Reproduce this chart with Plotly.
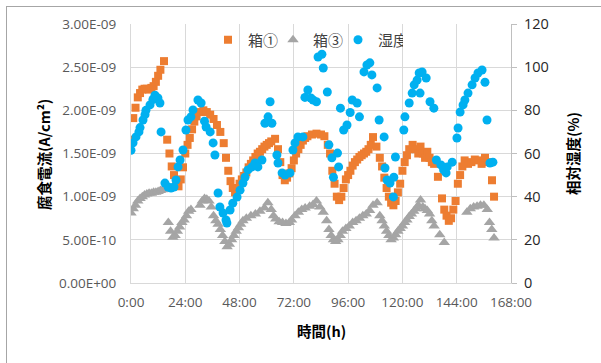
import plotly.graph_objects as go

# ---- data ----
box1_t = [0, 1, 2, 3, 4, 5, 6, 7, 8, 9, 10, 11, 12, 13, 14.6, 16, 17, 18, 19, 20, 21, 22, 23, 24, 25, 26, 27, 28, 29,
          30.5, 32, 33.5, 35, 36.5, 38, 39.5, 41, 42, 43, 44, 45, 46, 47, 48, 49, 50, 51, 52, 53, 54, 55, 56, 57, 58,
          59, 60, 61, 62, 63.7, 65, 66, 67, 68, 69, 70, 71, 72, 73, 74, 75, 76, 77, 78, 80, 82, 84, 85.5, 87, 88, 89,
          90, 91, 92, 93, 94, 95, 96, 97, 98, 99, 100, 101, 102, 103, 104, 105, 106, 107, 108.5, 110, 111, 112, 113,
          114, 115, 116, 117, 118, 119, 120, 121, 122, 123, 124.5, 126, 127, 128, 129, 130, 131, 132, 133, 134, 135.7,
          137.5, 138.5, 139.5, 140.5, 141.5, 142.5, 143.5, 144.5, 145.5, 146.5, 147.5, 149, 150.5, 152, 153.5, 155,
          156.5, 158, 159.6, 160.5]
box1_i = [1.66, 1.91, 2.03, 2.15, 2.2, 2.24, 2.25, 2.25, 2.24, 2.26, 2.28, 2.33, 2.4, 2.47, 2.57, 1.66, 1.5, 1.35,
          1.25, 1.15, 1.12, 1.2, 1.34, 1.5, 1.6, 1.68, 1.78, 1.87, 1.93, 1.98, 2.0, 1.98, 1.95, 1.9, 1.83, 1.75, 1.62,
          1.45, 1.3, 1.18, 1.1, 1.05, 1.1, 1.15, 1.2, 1.24, 1.28, 1.34, 1.38, 1.42, 1.46, 1.5, 1.52, 1.55, 1.58, 1.6,
          1.62, 1.64, 1.67, 1.55, 1.4, 1.25, 1.19, 1.22, 1.27, 1.33, 1.42, 1.5, 1.55, 1.6, 1.65, 1.68, 1.7, 1.72, 1.73,
          1.72, 1.7, 1.6, 1.5, 1.3, 1.15, 1.0, 0.96, 1.0, 1.1, 1.2, 1.25, 1.3, 1.36, 1.4, 1.43, 1.46, 1.48, 1.5, 1.52,
          1.55, 1.6, 1.69, 1.58, 1.45, 1.35, 1.22, 1.1, 1.0, 0.93, 0.9, 0.95, 1.05, 1.15, 1.3, 1.4, 1.48, 1.55, 1.6,
          1.55, 1.5, 1.58, 1.5, 1.45, 1.52, 1.45, 1.4, 1.38, 1.23, 0.98, 0.85, 0.78, 0.72, 0.75, 0.85, 0.95, 1.15,
          1.25, 1.35, 1.42, 1.38, 1.4, 1.43, 1.42, 1.38, 1.45, 1.4, 1.19, 1.0]

box3_t = [0, 1, 2, 3, 4, 5, 6, 7, 8, 9, 10, 11, 12, 13, 14, 15, 15.9, 16.5, 17.5, 18.5, 19.5, 20.5, 21.5, 22.5, 23.5,
          24.5, 25.5, 26.5, 30.5, 31.5, 32.5, 33.5, 34.5, 35.5, 36.5, 37.5, 38.5, 39.5, 40.5, 41.5, 42.5, 43.5, 44.5,
          45.5, 46.5, 47.5, 48.5, 49.5, 51, 53, 55, 57, 59, 60.5, 62, 63, 64, 65.5, 67, 68.5, 70, 71, 72.5, 74, 75.5,
          77, 79, 80.5, 82, 83.5, 85, 86.5, 87.5, 88.5, 89.5, 90.5, 91.5, 92.5, 93.5, 95, 96.5, 98, 99.5, 101, 102.5,
          104, 105.5, 107, 108.8, 110, 111, 112, 113, 114, 115, 116, 117, 118, 119, 120, 121, 122, 123, 124, 125, 126,
          127, 128, 129, 130, 131, 132, 133, 134, 136.5, 138.5, 148.5, 150, 151.5, 153, 154.5, 156, 157.5, 158.5,
          159.5, 160.5]
box3_i = [0.81, 0.86, 0.9, 0.95, 0.98, 1.0, 1.02, 1.03, 1.04, 1.04, 1.05, 1.05, 1.06, 1.07, 1.08, 1.09, 1.1, 0.7,
          0.6, 0.53, 0.55, 0.6, 0.65, 0.7, 0.73, 0.78, 0.83, 0.85, 0.9, 0.95, 0.98, 0.97, 0.95, 0.88, 0.78, 0.72, 0.68,
          0.62, 0.55, 0.48, 0.42, 0.45, 0.5, 0.55, 0.6, 0.64, 0.68, 0.72, 0.75, 0.78, 0.8, 0.83, 0.87, 0.93, 0.85,
          0.78, 0.74, 0.71, 0.7, 0.69, 0.7, 0.73, 0.78, 0.82, 0.85, 0.87, 0.89, 0.91, 0.95, 0.88, 0.82, 0.72, 0.62,
          0.55, 0.5, 0.48, 0.5, 0.55, 0.6, 0.63, 0.66, 0.7, 0.72, 0.75, 0.78, 0.8, 0.84, 0.9, 0.93, 0.78, 0.72, 0.66,
          0.6, 0.55, 0.5, 0.52, 0.56, 0.6, 0.63, 0.66, 0.7, 0.73, 0.77, 0.8, 0.83, 0.86, 0.9, 0.96, 0.88, 0.86, 0.84,
          0.8, 0.72, 0.66, 0.56, 0.47, 0.82, 0.86, 0.88, 0.89, 0.9, 0.9, 0.85, 0.7, 0.62, 0.52]

hum_t = [0.0, 0.9, 2.2, 3.5, 4.0, 5.3, 6.2, 6.6, 8.4, 9.7, 10.6, 11.9, 12.8, 13.3, 15.0, 16.4, 17.7, 19.0, 19.9, 20.8,
         21.7, 23.0, 24.3, 25.2, 26.5, 27.4, 29.6, 31.0, 32.5, 33.2, 35.0, 36.3, 37.1, 38.5, 39.3, 40.7, 42.0, 42.4,
         43.8, 45.0, 46.9, 48.2, 49.5, 50.4, 51.7, 53.5, 54.8, 56.1, 57.9, 59.2, 60.6, 61.5, 62.3, 64.5, 65.0, 66.8,
         68.1, 70.3, 71.6, 72.5, 73.8, 76.0, 76.9, 78.2, 79.5, 80.5, 82.0, 82.7, 84.4, 85.0, 86.8, 87.5, 88.8, 89.5,
         91.3, 91.8, 92.6, 94.0, 95.5, 96.9, 97.8, 100.0, 101.0, 103.0, 104.3, 105.6, 106.5, 108.8, 109.7, 111.9,
         112.3, 113.2, 114.5, 116.2, 116.9, 116.0, 120.6, 121.1, 123.0, 124.3, 125.2, 126.5, 127.4, 127.8, 128.7,
         130.5, 132.2, 133.9, 135.0, 137.0, 138.2, 139.3, 139.8, 142.0, 144.1, 144.6, 145.5, 146.8, 147.6, 149.0,
         150.8, 152.1, 153.4, 155.2, 156.5, 157.4, 158.7, 160.0]
hum_v = [61.5, 65, 67.7, 70, 72, 75.5, 78, 80, 82.5, 85, 87, 85.7, 83.4, 70, 46.3, 44.5, 44, 44.5, 47.7, 53.8, 57,
         61.6, 70.9, 75.5, 77, 80.2, 84.8, 83.4, 75, 72.3, 70, 64.9, 59.3, 41.7, 35.2, 32.4, 29.2, 27.8, 33.8, 37,
         39.8, 43, 46.3, 49, 52.4, 53.8, 55.6, 53.8, 57, 74, 77, 84, 74, 59.3, 55.6, 51, 50, 51, 61.6, 64.9, 67.7,
         67.7, 86, 89.4, 85.7, 84.8, 84, 104.7, 106, 99.6, 88.5, 64, 58, 49, 60.2, 53.8, 81, 70.9, 73.2, 79, 84.8,
         83.4, 77, 97.8, 101, 102, 96.4, 90.4, 75.5, 67.7, 53.3, 47.7, 46.3, 49, 58.4, 39.9, 70.9, 77, 83.4, 88,
         91.8, 94, 97.3, 88, 97.8, 95, 84, 81, 57, 54.7, 52.4, 51, 53.8, 56, 67.2, 71.8, 79.2, 82.5, 84.8, 88, 91.8,
         95, 97.3, 98.7, 93, 75.5, 55.6, 56]

x_ticks = [0, 24, 48, 72, 96, 120, 144, 168]
x_labels = ["0:00", "24:00", "48:00", "72:00", "96:00", "120:00", "144:00", "168:00"]
y_ticks = [0, 0.5, 1.0, 1.5, 2.0, 2.5, 3.0]
y_labels = ["0.00E+00", "5.00E-10", "1.00E-09", "1.50E-09", "2.00E-09", "2.50E-09", "3.00E-09"]

ORANGE = "#ED7D31"
GRAY = "#A5A5A5"
BLUE = "#00B0F0"
FONT = "Open Sans, Noto Sans CJK JP, sans-serif"
CJK = "Noto Sans CJK JP, sans-serif"

fig = go.Figure()
fig.add_trace(go.Scatter(x=box1_t, y=box1_i, mode="markers", name="箱①",
                         marker=dict(symbol="square", size=8, color=ORANGE)))
fig.add_trace(go.Scatter(x=box3_t, y=box3_i, mode="markers", name="箱③",
                         marker=dict(symbol="triangle-up", size=10, color=GRAY)))
fig.add_trace(go.Scatter(x=hum_t, y=hum_v, mode="markers", name="湿度", yaxis="y2",
                         marker=dict(symbol="circle", size=9, color=BLUE)))

W, H = 601, 363
L, R, T, B = 131, 90, 24, 80
pw, ph = W - L - R, H - T - B


def px_x(px):
    return (px - L) / pw


def px_y(py):
    return (H - B - py) / ph


fig.update_layout(
    width=W, height=H,
    margin=dict(l=L, r=R, t=T, b=B, pad=0),
    paper_bgcolor="white", plot_bgcolor="white",
    font=dict(family=FONT, size=13, color="#595959"),
    showlegend=True,
    legend=dict(orientation="h", x=px_x(208), xanchor="left", y=px_y(40), yanchor="middle",
                bgcolor="rgba(0,0,0,0)", font=dict(family=CJK, size=15, color="#404040"),
                itemwidth=30, entrywidth=20, tracegroupgap=0),
    xaxis=dict(range=[0, 168], tickvals=x_ticks, ticktext=x_labels, showgrid=True,
               gridcolor="#D9D9D9", gridwidth=1, zeroline=False, showline=True, linecolor="#D9D9D9",
               ticks="", tickfont=dict(size=13.5, color="#595959"), ticklabelstandoff=7),
    yaxis=dict(range=[0, 3.0], tickvals=y_ticks, ticktext=y_labels, showgrid=True,
               gridcolor="#D9D9D9", gridwidth=1, zeroline=False, showline=True, linecolor="#D9D9D9",
               ticks="", tickfont=dict(size=13.5, color="#595959"), ticklabelstandoff=11),
    yaxis2=dict(range=[0, 120], dtick=20, overlaying="y", side="right", showgrid=False,
                zeroline=False, showline=True, linecolor="#BFBFBF", ticks="outside", ticklen=5,
                tickcolor="#BFBFBF", tickfont=dict(size=14.5, color="#262626"), ticklabelstandoff=4),
)

# axis titles
fig.add_annotation(text="<b>腐食電流(A/cm²)</b>", xref="paper", yref="paper", x=px_x(43), y=px_y(155),
                   textangle=-90, showarrow=False, font=dict(family=CJK, size=14.5, color="#000000"),
                   xanchor="center", yanchor="middle")
fig.add_annotation(text="<b>相対湿度(%)</b>", xref="paper", yref="paper", x=px_x(572), y=px_y(154),
                   textangle=-90, showarrow=False, font=dict(family=CJK, size=14.5, color="#000000"),
                   xanchor="center", yanchor="middle")
fig.add_annotation(text="<b>時間(h)</b>", xref="paper", yref="paper", x=px_x(321), y=px_y(330),
                   showarrow=False, font=dict(family=CJK, size=14.5, color="#000000"),
                   xanchor="center", yanchor="middle")

# outer chart frame (top and left edges visible)
fig.add_shape(type="line", xref="paper", yref="paper", x0=px_x(6), x1=px_x(610), y0=px_y(6.5), y1=px_y(6.5),
              line=dict(color="#A6A6A6", width=1))
fig.add_shape(type="line", xref="paper", yref="paper", x0=px_x(6.5), x1=px_x(6.5), y0=px_y(6), y1=px_y(370),
              line=dict(color="#A6A6A6", width=1))

fig.write_html("out.html", config={"displayModeBar": False},
               post_script="document.body.style.margin='0';document.body.style.overflow='hidden';")
